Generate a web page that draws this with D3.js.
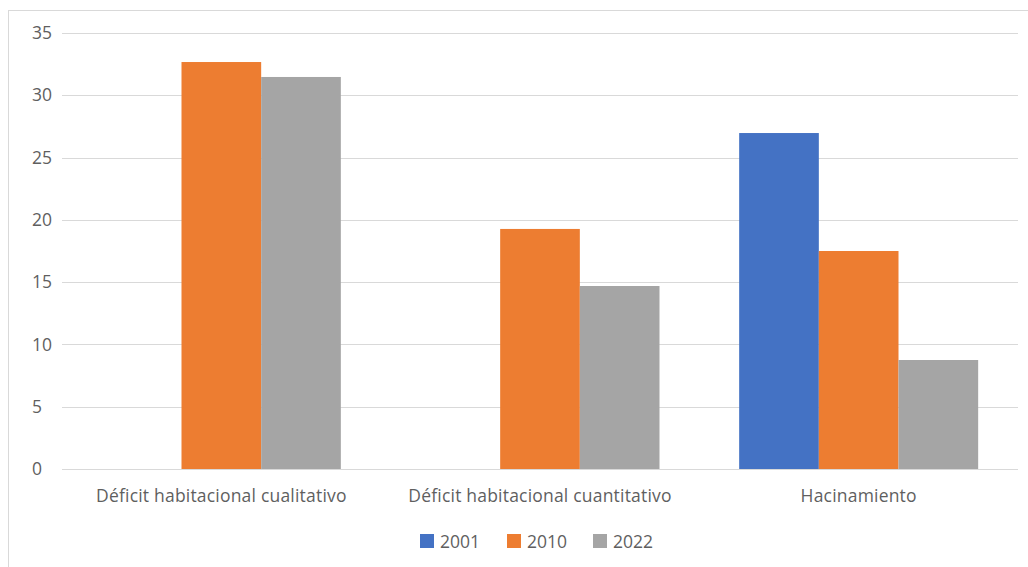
<!DOCTYPE html>
<html><head><meta charset="utf-8">
<script src="https://cdn.jsdelivr.net/npm/d3@7"></script>
<style>body{margin:0;background:#fff;}svg{display:block;}</style>
</head><body>
<script>
const categories = ["Déficit habitacional cualitativo", "Déficit habitacional cuantitativo", "Hacinamiento"];
const seriesNames = ["2001", "2010", "2022"];
const values2001 = [null, null, 26.97];
const values2010 = [32.67, 19.27, 17.5];
const values2022 = [31.47, 14.69, 8.75];
const yTicks = [0, 5, 10, 15, 20, 25, 30, 35];
const colors = ["#4472C4", "#ED7D31", "#A5A5A5"];

(function () {
const W = 1028, H = 567;
const FONT = "Open Sans", FS = 17.5, TXT = "#5f5f5f";
const svg = d3.select("body").append("svg").attr("width", W).attr("height", H);
svg.append("rect").attr("x", 8.5).attr("y", 10.5).attr("width", 1100).attr("height", 700)
  .attr("fill", "#fff").attr("stroke", "#d9d9d9");

const mLeft = 62, mRight = 1018, mTop = 33, mBottom = 469;
const x = d3.scaleBand().domain(categories).range([mLeft, mRight]).paddingInner(0.25).paddingOuter(0.125);
const xs = d3.scaleBand().domain(seriesNames).range([0, x.bandwidth()]);
const y = d3.scaleLinear().domain([0, 35]).range([mBottom, mTop]);

svg.append("g").selectAll("line").data(yTicks).join("line")
  .attr("x1", mLeft).attr("x2", mRight).attr("y1", d => Math.round(y(d)) + 0.5).attr("y2", d => Math.round(y(d)) + 0.5)
  .attr("stroke", "#d9d9d9").attr("stroke-width", 1);

const yAxis = d3.axisLeft(y).tickValues(yTicks).tickSize(0).tickPadding(0);
const gy = svg.append("g").attr("transform", `translate(32,0)`).call(yAxis);
gy.select(".domain").remove();
gy.selectAll("text").attr("text-anchor", "start").attr("fill", TXT)
  .attr("font-family", FONT).attr("font-size", FS);

const data = [values2001, values2010, values2022];
seriesNames.forEach((s, i) => {
  svg.append("g").selectAll("rect").data(categories.map((c, j) => ({c, v: data[i][j]})).filter(d => d.v != null))
    .join("rect")
    .attr("x", d => x(d.c) + xs(s))
    .attr("width", xs.bandwidth())
    .attr("y", d => y(d.v))
    .attr("height", d => y(0) - y(d.v))
    .attr("fill", colors[i]);
});

const xAxis = d3.axisBottom(x).tickSize(0).tickPadding(0);
const gx = svg.append("g").attr("transform", `translate(0,${mBottom})`).call(xAxis);
gx.select(".domain").remove();
gx.selectAll("text").attr("dy", null).attr("y", 33).attr("fill", TXT)
  .attr("font-family", FONT).attr("font-size", FS).attr("letter-spacing", 0.2);

const legendX = [420, 507, 593];
const lg = svg.append("g");
seriesNames.forEach((s, i) => {
  lg.append("rect").attr("x", legendX[i]).attr("y", 534).attr("width", 14).attr("height", 14).attr("fill", colors[i]);
  lg.append("text").attr("x", legendX[i] + 20).attr("y", 548).text(s)
    .attr("fill", TXT).attr("font-family", FONT).attr("font-size", FS);
});
})();
</script>
</body></html>
